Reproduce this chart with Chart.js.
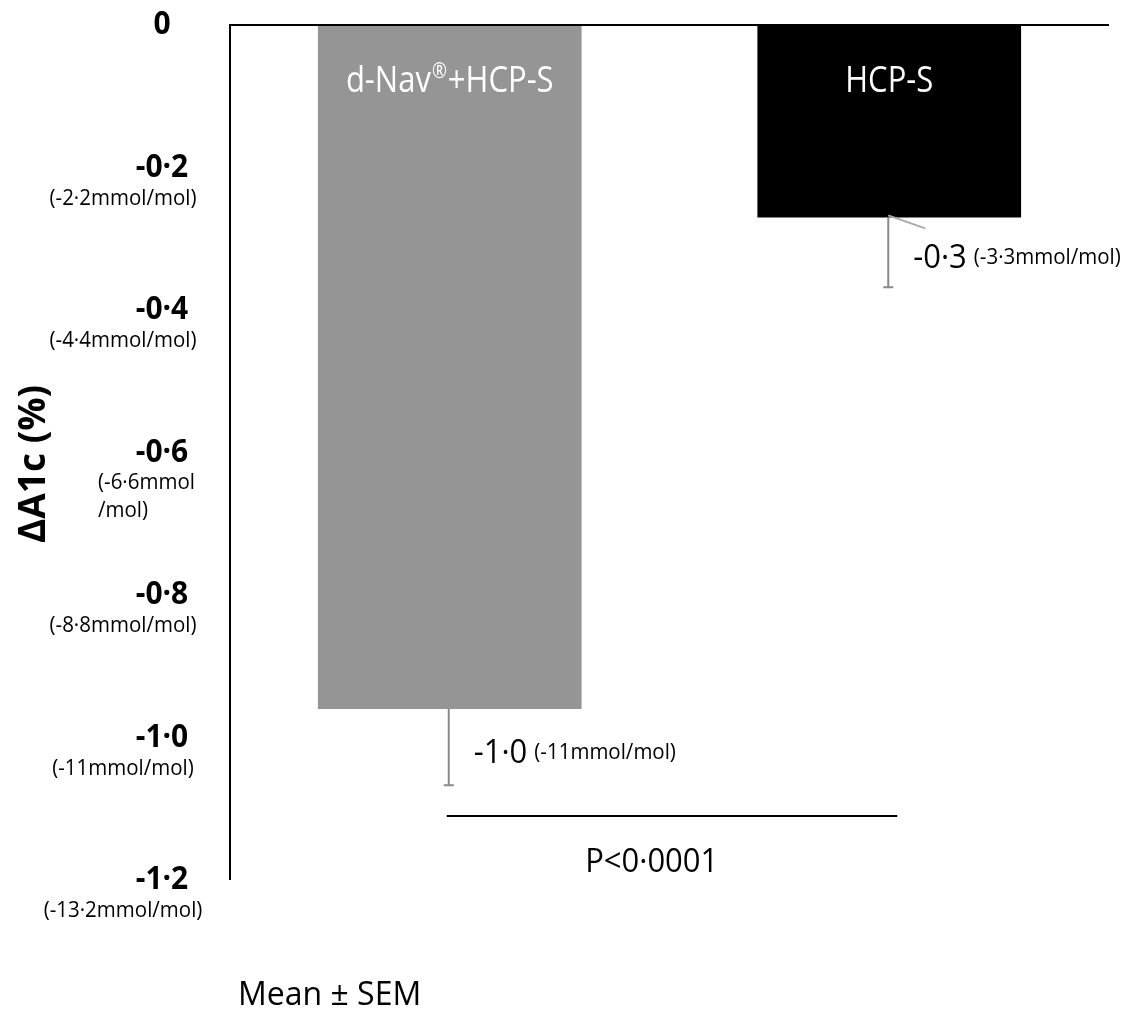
<!DOCTYPE html>
<html>
<head>
<meta charset="utf-8">
<script src="https://cdn.jsdelivr.net/npm/chart.js@4/dist/chart.umd.min.js"></script>
<style>
  html, body { margin: 0; padding: 0; background: #fff; }
  #wrap { width: 1139px; height: 1011px; position: relative; }
</style>
</head>
<body>
<div id="wrap"><canvas id="chart"></canvas></div>
<script>
// data
const categories = ['d-Nav®+HCP-S', 'HCP-S'];
const meanChange = [-0.96, -0.27];
const semValues = [0.107, 0.098];
const valueLabels = ['-1·0', '-0·3'];
const mmolLabels = ['(-11mmol/mol)', '(-3·3mmol/mol)'];
const yTickValues = [0, -0.2, -0.4, -0.6, -0.8, -1.0, -1.2];
const yTickLabels = ['0', '-0·2', '-0·4', '-0·6', '-0·8', '-1·0', '-1·2'];
const yTickSubLabels = [
  [],
  ['(-2·2mmol/mol)'],
  ['(-4·4mmol/mol)'],
  ['(-6·6mmol', '/mol)'],
  ['(-8·8mmol/mol)'],
  ['(-11mmol/mol)'],
  ['(-13·2mmol/mol)']
];
const yTitle = 'ΔA1c (%)';
const pValueText = 'P<0·0001';
const pBracketValue = -1.11;
const footnote = 'Mean ± SEM';

const FONT = '"Open Sans", "DejaVu Sans", sans-serif';

// text drawn a bit taller than wide, like the original export
function tallText(ctx, text, x, y, sy) {
  ctx.save();
  ctx.translate(x, y);
  ctx.scale(1, sy);
  ctx.fillText(text, 0, 0);
  ctx.restore();
}

const annotations = {
  id: 'annotations',
  afterDraw(chart) {
    const ctx = chart.ctx;
    const y = chart.scales.y;
    const area = chart.chartArea;
    const bars = chart.getDatasetMeta(0).data;
    const zeroY = y.getPixelForValue(0);

    ctx.save();

    // axis lines (left + top)
    ctx.strokeStyle = '#000';
    ctx.lineWidth = 2;
    ctx.beginPath();
    ctx.moveTo(area.left, area.bottom);
    ctx.lineTo(area.left, zeroY);
    ctx.lineTo(area.right, zeroY);
    ctx.stroke();

    // y tick labels
    yTickValues.forEach((v, i) => {
      const py = y.getPixelForValue(v);
      ctx.fillStyle = '#000';
      ctx.font = 'bold 30px ' + FONT;
      ctx.textAlign = 'center';
      ctx.textBaseline = 'middle';
      tallText(ctx, yTickLabels[i], 162, py, 1.08);
      const sub = yTickSubLabels[i];
      ctx.font = '20.5px ' + FONT;
      if (sub.length > 1) {
        ctx.textAlign = 'left';
        sub.forEach((s, k) => tallText(ctx, s, 98, py + 30 + k * 28, 1.08));
      } else if (sub.length === 1) {
        ctx.textAlign = 'center';
        tallText(ctx, sub[0], 123, py + 31, 1.08);
      }
    });

    // y title
    ctx.save();
    ctx.translate(34, 464);
    ctx.rotate(-Math.PI / 2);
    ctx.font = 'bold 37px ' + FONT;
    ctx.textAlign = 'center';
    ctx.textBaseline = 'middle';
    ctx.fillText(yTitle, 0, 0);
    ctx.restore();

    bars.forEach((bar, i) => {
      const x = bar.x;
      const bottom = y.getPixelForValue(meanChange[i]);
      const end = y.getPixelForValue(meanChange[i] - semValues[i]);

      // error bar (downward only)
      ctx.strokeStyle = '#8a8a8a';
      ctx.lineWidth = 2;
      ctx.beginPath();
      ctx.moveTo(x - 1, bottom);
      ctx.lineTo(x - 1, end);
      ctx.moveTo(x - 6, end);
      ctx.lineTo(x + 4, end);
      ctx.stroke();

      if (i === 1) {
        ctx.strokeStyle = '#aaaaaa';
        ctx.beginPath();
        ctx.moveTo(x - 1, bottom - 2);
        ctx.lineTo(x + 36, bottom + 11);
        ctx.stroke();
      }

      // value label next to error bar
      const mid = (bottom + end) / 2;
      const lx = x + 24;
      ctx.fillStyle = '#000';
      ctx.textAlign = 'left';
      ctx.textBaseline = 'alphabetic';
      ctx.font = '31px ' + FONT;
      tallText(ctx, valueLabels[i], lx, mid + 16, 1.05);
      const w = ctx.measureText(valueLabels[i]).width;
      ctx.font = '20.5px ' + FONT;
      tallText(ctx, mmolLabels[i], lx + w + 7, mid + 12, 1.08);

      // category label inside bar
      const parts = categories[i].split('®');
      ctx.fillStyle = '#fff';
      ctx.textBaseline = 'alphabetic';
      const big = '31px ' + FONT;
      const small = '18px ' + FONT;
      const by = zeroY + 67;
      const sy = 1.2;
      ctx.font = big;
      let total = ctx.measureText(parts[0]).width;
      let regW = 0;
      if (parts.length > 1) {
        ctx.font = small;
        regW = ctx.measureText('®').width + 2;
        ctx.font = big;
        total += regW + ctx.measureText(parts[1]).width;
      }
      let cx = x - total / 2;
      ctx.textAlign = 'left';
      tallText(ctx, parts[0], cx, by, sy);
      cx += ctx.measureText(parts[0]).width;
      if (parts.length > 1) {
        ctx.font = small;
        tallText(ctx, '®', cx + 1, by - 14, sy);
        cx += regW;
        ctx.font = big;
        tallText(ctx, parts[1], cx, by, sy);
      }
    });

    // significance bracket
    const ly = y.getPixelForValue(pBracketValue);
    const x1 = bars[0].x - 3;
    const x2 = bars[1].x + 8;
    ctx.strokeStyle = '#000';
    ctx.lineWidth = 2;
    ctx.beginPath();
    ctx.moveTo(x1, ly);
    ctx.lineTo(x2, ly);
    ctx.stroke();
    ctx.fillStyle = '#000';
    ctx.font = '31px ' + FONT;
    ctx.textAlign = 'center';
    ctx.textBaseline = 'alphabetic';
    tallText(ctx, pValueText, x1 + (x2 - x1) * 0.455, ly + 56, 1.03);

    // footnote
    ctx.font = '32px ' + FONT;
    ctx.textAlign = 'left';
    ctx.fillText(footnote, 238, 1005);

    ctx.restore();
  }
};

new Chart(document.getElementById('chart'), {
  type: 'bar',
  data: {
    labels: categories,
    datasets: [{
      data: meanChange,
      backgroundColor: ['#959595', '#000000'],
      borderWidth: 0,
      barPercentage: 1,
      categoryPercentage: 0.6
    }]
  },
  options: {
    responsive: true,
    maintainAspectRatio: false,
    animation: false,
    layout: { padding: { left: 230, top: 25, right: 30, bottom: 131 } },
    scales: {
      x: { display: false },
      y: { display: false, min: -1.2, max: 0 }
    },
    plugins: {
      legend: { display: false },
      tooltip: { enabled: false }
    }
  },
  plugins: [annotations]
});
</script>
</body>
</html>
